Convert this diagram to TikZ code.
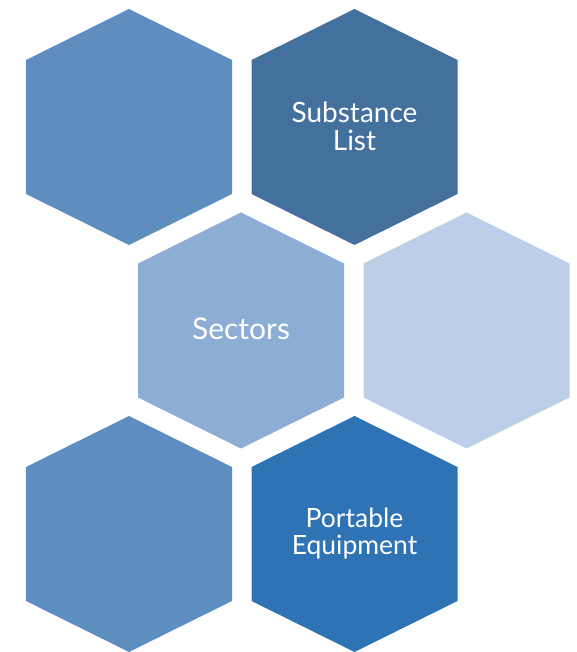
\documentclass[tikz,border=0pt]{standalone}
\usepackage{fontspec}
\setmainfont{Lato}
\definecolor{hexA}{HTML}{5E8DC0}
\definecolor{hexB}{HTML}{43709C}
\definecolor{hexC}{HTML}{8CAED5}
\definecolor{hexD}{HTML}{BBD0E8}
\definecolor{hexE}{HTML}{2E73B4}
\newcommand\hexat[3]{%
  \fill[#3] (#1,#2) ++(0,118) -- ++(103,-51) -- ++(0,-134) -- ++(-103,-51) -- ++(-103,51) -- ++(0,134) -- cycle;}
\tikzset{hexlabel/.style={text=white, align=center, inner sep=0pt}}
\begin{document}
\begin{tikzpicture}[x=1pt,y=1pt]
\useasboundingbox (0,0) rectangle (577,652);
\hexat{129}{525}{hexA}
\hexat{354.5}{525}{hexB}
\hexat{241}{321.5}{hexC}
\hexat{466.5}{321.5}{hexD}
\hexat{129}{118}{hexA}
\hexat{354.5}{118}{hexE}
\node[hexlabel, font=\fontsize{28}{28}\selectfont] (subst) at (354.5,525.5) {Substance\\List};
\node[hexlabel, font=\fontsize{30}{31}\selectfont] (sect) at (241,323) {Sectors};
\node[hexlabel, font=\fontsize{26.5}{27}\selectfont] (port) at (354.5,118) {Portable\\Equipment};
\end{tikzpicture}
\end{document}
